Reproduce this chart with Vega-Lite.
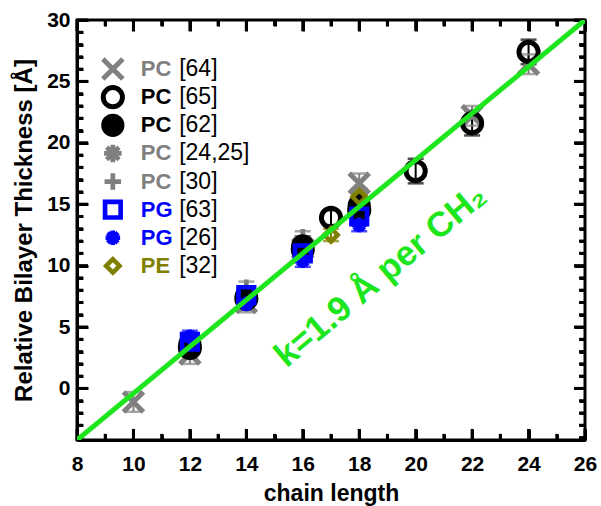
{
  "$schema": "https://vega.github.io/schema/vega-lite/v6.json",
  "width": 508,
  "height": 420,
  "autosize": {"type": "none"},
  "padding": {"left": 77, "top": 20, "right": 16, "bottom": 66},
  "config": {
    "view": {"stroke": "black", "strokeWidth": 3},
    "font": "Liberation Sans",
    "axis": {"tickColor": "#000000", "tickWidth": 3, "domainWidth": 3, "domainColor": "#000000", "grid": false, "labelOverlap": false, "labelFlush": false}
  },
  "datasets": {
    "pts": [
      {"s": "PC [64]", "n": 10, "t": -1.1, "lo": -1.9, "hi": -0.3},
      {"s": "PC [64]", "n": 12, "t": 2.8, "lo": 2.0, "hi": 3.6},
      {"s": "PC [64]", "n": 14, "t": 7.0, "lo": 6.2, "hi": 7.8},
      {"s": "PC [64]", "n": 16, "t": 11.4, "lo": 10.6, "hi": 12.2},
      {"s": "PC [64]", "n": 18, "t": 16.7, "lo": 15.9, "hi": 17.5},
      {"s": "PC [64]", "n": 22, "t": 22.2, "lo": 21.4, "hi": 23.0},
      {"s": "PC [64]", "n": 24, "t": 26.4, "lo": 25.6, "hi": 27.2},
      {"s": "PC [24,25]", "n": 12, "t": 3.0, "lo": 2.5, "hi": 3.5},
      {"s": "PC [24,25]", "n": 14, "t": 7.2, "lo": 6.7, "hi": 7.7},
      {"s": "PC [24,25]", "n": 16, "t": 11.0, "lo": 10.5, "hi": 11.5},
      {"s": "PC [24,25]", "n": 18, "t": 14.2, "lo": 13.7, "hi": 14.7},
      {"s": "PC [30]", "n": 12, "t": 3.5, "lo": 3.0, "hi": 4.0},
      {"s": "PC [30]", "n": 14, "t": 8.2, "lo": 7.7, "hi": 8.7},
      {"s": "PC [30]", "n": 16, "t": 12.3, "lo": 11.8, "hi": 12.8},
      {"s": "PC [30]", "n": 18, "t": 15.8, "lo": 15.3, "hi": 16.3},
      {"s": "PC [62]", "n": 12, "t": 3.6, "lo": 3.1, "hi": 4.1},
      {"s": "PC [62]", "n": 14, "t": 7.5, "lo": 7.0, "hi": 8.0},
      {"s": "PC [62]", "n": 16, "t": 11.6, "lo": 11.1, "hi": 12.1},
      {"s": "PC [62]", "n": 18, "t": 14.9, "lo": 14.4, "hi": 15.4},
      {"s": "PC [65]", "n": 12, "t": 3.3, "lo": 2.7, "hi": 3.9},
      {"s": "PC [65]", "n": 14, "t": 7.3, "lo": 6.7, "hi": 7.9},
      {"s": "PC [65]", "n": 16, "t": 11.3, "lo": 10.7, "hi": 11.9},
      {"s": "PC [65]", "n": 17, "t": 13.9, "lo": 13.3, "hi": 14.5},
      {"s": "PC [65]", "n": 18, "t": 14.5, "lo": 13.9, "hi": 15.1},
      {"s": "PC [65]", "n": 20, "t": 17.7, "lo": 16.7, "hi": 18.7},
      {"s": "PC [65]", "n": 22, "t": 21.6, "lo": 20.6, "hi": 22.6},
      {"s": "PC [65]", "n": 24, "t": 27.4, "lo": 26.4, "hi": 28.4},
      {"s": "PG [63]", "n": 12, "t": 3.8, "lo": 3.3, "hi": 4.3},
      {"s": "PG [63]", "n": 14, "t": 7.6, "lo": 7.1, "hi": 8.1},
      {"s": "PG [63]", "n": 16, "t": 11.0, "lo": 10.5, "hi": 11.5},
      {"s": "PG [63]", "n": 18, "t": 14.0, "lo": 13.5, "hi": 14.5},
      {"s": "PG [26]", "n": 12, "t": 4.2, "lo": 3.7, "hi": 4.7},
      {"s": "PG [26]", "n": 14, "t": 6.9, "lo": 6.4, "hi": 7.4},
      {"s": "PG [26]", "n": 16, "t": 10.4, "lo": 9.9, "hi": 10.9},
      {"s": "PG [26]", "n": 18, "t": 13.3, "lo": 12.8, "hi": 13.8},
      {"s": "PE [32]", "n": 17, "t": 12.5, "lo": 12.0, "hi": 13.0},
      {"s": "PE [32]", "n": 18, "t": 15.6, "lo": 15.1, "hi": 16.1}
    ],
    "leg": [
      {"s": "PC [64]", "abbr": "PC", "ref": "[64]"},
      {"s": "PC [65]", "abbr": "PC", "ref": "[65]"},
      {"s": "PC [62]", "abbr": "PC", "ref": "[62]"},
      {"s": "PC [24,25]", "abbr": "PC", "ref": "[24,25]"},
      {"s": "PC [30]", "abbr": "PC", "ref": "[30]"},
      {"s": "PG [63]", "abbr": "PG", "ref": "[63]"},
      {"s": "PG [26]", "abbr": "PG", "ref": "[26]"},
      {"s": "PE [32]", "abbr": "PE", "ref": "[32]"}
    ],
    "xmaj": [{"v": 8}, {"v": 10}, {"v": 12}, {"v": 14}, {"v": 16}, {"v": 18}, {"v": 20}, {"v": 22}, {"v": 24}, {"v": 26}],
    "xmin": [{"v": 9}, {"v": 11}, {"v": 13}, {"v": 15}, {"v": 17}, {"v": 19}, {"v": 21}, {"v": 23}, {"v": 25}],
    "ymaj": [{"v": 0}, {"v": 5}, {"v": 10}, {"v": 15}, {"v": 20}, {"v": 25}, {"v": 30}],
    "ymin": [{"v": -4}, {"v": -3}, {"v": -2}, {"v": -1}, {"v": 1}, {"v": 2}, {"v": 3}, {"v": 4}, {"v": 6}, {"v": 7}, {"v": 8}, {"v": 9}, {"v": 11}, {"v": 12}, {"v": 13}, {"v": 14}, {"v": 16}, {"v": 17}, {"v": 18}, {"v": 19}, {"v": 21}, {"v": 22}, {"v": 23}, {"v": 24}, {"v": 26}, {"v": 27}, {"v": 28}, {"v": 29}],
    "fit": [
      {"n": 8, "t": -4.2},
      {"n": 26, "t": 30}
    ],
    "note": [
      {"n": 18.75, "t": 9.2, "label": "k=1.9 Å per CH₂"}
    ]
  },
  "layer": [
    {
      "layer": [
        {
          "data": {"name": "pts"},
          "mark": {"type": "rule", "strokeWidth": 2},
          "encoding": {
            "x": {
              "field": "n", "type": "quantitative",
              "scale": {"domain": [8, 26], "nice": false, "zero": false},
              "axis": {
                "orient": "bottom",
                "values": [8,10,12,14,16,18,20,22,24,26],
                "ticks": false,
                "labelFont": "Liberation Sans", "labelFontWeight": "bold", "labelFontSize": 21, "labelColor": "black",
                "labelPadding": 13,
                "title": "chain length", "titleFont": "Liberation Sans", "titleFontWeight": "bold", "titleFontSize": 23, "titleColor": "black", "titlePadding": 8
              }
            },
            "y": {
              "field": "lo", "type": "quantitative",
              "scale": {"domain": [-4.2, 30], "nice": false, "zero": false},
              "axis": {
                "orient": "left",
                "values": [0,5,10,15,20,25,30],
                "ticks": false,
                "labelFont": "Liberation Sans", "labelFontWeight": "bold", "labelFontSize": 21, "labelColor": "black",
                "labelPadding": 7,
                "title": "Relative Bilayer Thickness  [Å]", "titleFont": "Liberation Sans", "titleFontWeight": "bold", "titleFontSize": 24, "titleColor": "black", "titlePadding": 10
              }
            },
            "y2": {"field": "hi"},
            "color": {
              "field": "s", "type": "nominal", "legend": null,
              "scale": {
                "domain": ["PC [64]", "PC [65]", "PC [62]", "PC [24,25]", "PC [30]", "PG [63]", "PG [26]", "PE [32]"],
                "range": ["#808080", "#000000", "#000000", "#808080", "#808080", "#0000ff", "#0000ff", "#808000"]
              }
            }
          }
        },
        {
          "data": {"name": "pts"},
          "mark": {"type": "tick", "orient": "horizontal", "size": 16, "thickness": 2.5},
          "encoding": {
            "x": {
              "field": "n", "type": "quantitative",
              "axis": {"orient": "bottom", "values": [8,10,12,14,16,18,20,22,24,26], "offset": -11, "tickSize": 11, "domain": false, "labels": false, "title": null}
            },
            "y": {
              "field": "lo", "type": "quantitative",
              "axis": {"orient": "left", "values": [0,5,10,15,20,25,30], "offset": -11, "tickSize": 11, "domain": false, "labels": false, "title": null}
            },
            "color": {"field": "s", "type": "nominal", "legend": null}
          }
        },
        {
          "data": {"name": "pts"},
          "mark": {"type": "tick", "orient": "horizontal", "size": 16, "thickness": 2.5},
          "encoding": {
            "x": {
              "field": "n", "type": "quantitative",
              "axis": {"orient": "bottom", "values": [9,11,13,15,17,19,21,23,25], "offset": -6, "tickSize": 6, "domain": false, "labels": false, "title": null}
            },
            "y": {
              "field": "hi", "type": "quantitative",
              "axis": {"orient": "left", "values": [-4,-3,-2,-1,1,2,3,4,6,7,8,9,11,12,13,14,16,17,18,19,21,22,23,24,26,27,28,29], "offset": -6, "tickSize": 6, "domain": false, "labels": false, "title": null}
            },
            "color": {"field": "s", "type": "nominal", "legend": null}
          }
        },
        {
          "data": {"name": "xmaj"},
          "mark": {"type": "rule", "color": "black", "strokeWidth": 3},
          "encoding": {
            "x": {
              "field": "v", "type": "quantitative",
              "axis": {"orient": "top", "values": [8,10,12,14,16,18,20,22,24,26], "offset": -11, "tickSize": 11, "domain": false, "labels": false, "title": null}
            },
            "y": {
              "datum": -4.2, "type": "quantitative",
              "axis": {"orient": "right", "values": [0,5,10,15,20,25,30], "offset": -11, "tickSize": 11, "domain": false, "labels": false, "title": null}
            },
            "y2": {"datum": -3.3}
          }
        },
        {
          "data": {"name": "xmaj"},
          "mark": {"type": "rule", "color": "black", "strokeWidth": 3},
          "encoding": {
            "x": {
              "field": "v", "type": "quantitative",
              "axis": {"orient": "top", "values": [9,11,13,15,17,19,21,23,25], "offset": -6, "tickSize": 6, "domain": false, "labels": false, "title": null}
            },
            "y": {
              "datum": 30, "type": "quantitative",
              "axis": {"orient": "right", "values": [-4,-3,-2,-1,1,2,3,4,6,7,8,9,11,12,13,14,16,17,18,19,21,22,23,24,26,27,28,29], "offset": -6, "tickSize": 6, "domain": false, "labels": false, "title": null}
            },
            "y2": {"datum": 29.1}
          }
        },
        {
          "data": {"name": "xmin"},
          "mark": {"type": "rule", "color": "black", "strokeWidth": 3},
          "encoding": {
            "x": {"field": "v", "type": "quantitative", "axis": null},
            "y": {"datum": -4.2, "type": "quantitative", "axis": null},
            "y2": {"datum": -3.7}
          }
        },
        {
          "data": {"name": "xmin"},
          "mark": {"type": "rule", "color": "black", "strokeWidth": 3},
          "encoding": {
            "x": {"field": "v", "type": "quantitative", "axis": null},
            "y": {"datum": 30, "type": "quantitative", "axis": null},
            "y2": {"datum": 29.5}
          }
        },
        {
          "data": {"name": "ymaj"},
          "mark": {"type": "rule", "color": "black", "strokeWidth": 3},
          "encoding": {
            "y": {"field": "v", "type": "quantitative", "axis": null},
            "x": {"datum": 8, "type": "quantitative", "axis": null},
            "x2": {"datum": 8.39}
          }
        },
        {
          "data": {"name": "ymaj"},
          "mark": {"type": "rule", "color": "black", "strokeWidth": 3},
          "encoding": {
            "y": {"field": "v", "type": "quantitative", "axis": null},
            "x": {"datum": 26, "type": "quantitative", "axis": null},
            "x2": {"datum": 25.61}
          }
        },
        {
          "data": {"name": "ymin"},
          "mark": {"type": "rule", "color": "black", "strokeWidth": 3},
          "encoding": {
            "y": {"field": "v", "type": "quantitative", "axis": null},
            "x": {"datum": 8, "type": "quantitative", "axis": null},
            "x2": {"datum": 8.21}
          }
        },
        {
          "data": {"name": "ymin"},
          "mark": {"type": "rule", "color": "black", "strokeWidth": 3},
          "encoding": {
            "y": {"field": "v", "type": "quantitative", "axis": null},
            "x": {"datum": 26, "type": "quantitative", "axis": null},
            "x2": {"datum": 25.79}
          }
        },
        {
          "data": {"name": "pts"},
          "mark": {"type": "point", "opacity": 1},
          "encoding": {
            "x": {"field": "n", "type": "quantitative", "axis": null},
            "y": {"field": "t", "type": "quantitative", "axis": null},
            "shape": {
              "field": "s", "type": "nominal", "legend": null,
              "scale": {
                "domain": ["PC [64]", "PC [65]", "PC [62]", "PC [24,25]", "PC [30]", "PG [63]", "PG [26]", "PE [32]"],
                "range": ["M-1,-1L1,1M-1,1L1,-1", "circle", "circle", "M0,-1L0,1M-1,0L1,0M-0.707,-0.707L0.707,0.707M-0.707,0.707L0.707,-0.707", "M-1,0L1,0M0,-1L0,1", "square", "M0,-1L0,1M-1,0L1,0M-0.707,-0.707L0.707,0.707M-0.707,0.707L0.707,-0.707", "diamond"]
              }
            },
            "stroke": {
              "field": "s", "type": "nominal", "legend": null,
              "scale": {
                "domain": ["PC [64]", "PC [65]", "PC [62]", "PC [24,25]", "PC [30]", "PG [63]", "PG [26]", "PE [32]"],
                "range": ["#808080", "#000000", "#000000", "#808080", "#808080", "#0000ff", "#0000ff", "#808000"]
              }
            },
            "fill": {
              "field": "s", "type": "nominal", "legend": null,
              "scale": {
                "domain": ["PC [64]", "PC [65]", "PC [62]", "PC [24,25]", "PC [30]", "PG [63]", "PG [26]", "PE [32]"],
                "range": ["transparent", "transparent", "#000000", "transparent", "transparent", "transparent", "transparent", "transparent"]
              }
            },
            "size": {
              "field": "s", "type": "nominal", "legend": null,
              "scale": {
                "domain": ["PC [64]", "PC [65]", "PC [62]", "PC [24,25]", "PC [30]", "PG [63]", "PG [26]", "PE [32]"],
                "range": [400, 180, 170, 440, 300, 100, 440, 300]
              }
            },
            "strokeWidth": {
              "field": "s", "type": "nominal", "legend": null,
              "scale": {
                "domain": ["PC [64]", "PC [65]", "PC [62]", "PC [24,25]", "PC [30]", "PG [63]", "PG [26]", "PE [32]"],
                "range": [5, 4.5, 1, 2.5, 3.5, 3.5, 2.5, 5]
              }
            }
          }
        },
        {
          "data": {"name": "fit"},
          "mark": {"type": "line", "color": "#1ee61e", "strokeWidth": 5, "clip": true},
          "encoding": {
            "x": {"field": "n", "type": "quantitative", "axis": null},
            "y": {"field": "t", "type": "quantitative", "axis": null}
          }
        },
        {
          "data": {"name": "note"},
          "mark": {"type": "text", "angle": 320, "align": "center", "baseline": "middle", "font": "Liberation Sans", "fontWeight": "bold", "fontSize": 35, "color": "#1ee61e"},
          "encoding": {
            "x": {"field": "n", "type": "quantitative", "axis": null},
            "y": {"field": "t", "type": "quantitative", "axis": null},
            "text": {"field": "label"}
          }
        }
      ],
      "resolve": {"axis": {"x": "independent", "y": "independent"}}
    },
    {
      "layer": [
        {
          "data": {"name": "leg"},
          "mark": {"type": "point", "opacity": 1},
          "encoding": {
            "x": {"datum": 9.27, "type": "quantitative", "axis": null},
            "y": {
              "field": "s", "type": "nominal", "axis": null,
              "scale": {"type": "point", "domain": ["PC [64]", "PC [65]", "PC [62]", "PC [24,25]", "PC [30]", "PG [63]", "PG [26]", "PE [32]"], "range": [35, 260]}
            },
            "shape": {"field": "s", "type": "nominal", "legend": null},
            "stroke": {"field": "s", "type": "nominal", "legend": null},
            "fill": {"field": "s", "type": "nominal", "legend": null},
            "size": {"field": "s", "type": "nominal", "legend": null},
            "strokeWidth": {"field": "s", "type": "nominal", "legend": null}
          }
        },
        {
          "data": {"name": "leg"},
          "mark": {"type": "text", "align": "left", "baseline": "middle", "font": "Liberation Sans", "fontWeight": "bold", "fontSize": 22},
          "encoding": {
            "x": {"datum": 10.26, "type": "quantitative", "axis": null},
            "y": {"field": "s", "type": "nominal", "axis": null},
            "text": {"field": "abbr"},
            "color": {"field": "s", "type": "nominal", "legend": null}
          }
        },
        {
          "data": {"name": "leg"},
          "mark": {"type": "text", "align": "left", "baseline": "middle", "font": "Liberation Sans", "fontSize": 23, "color": "black"},
          "encoding": {
            "x": {"datum": 11.62, "type": "quantitative", "axis": null},
            "y": {"field": "s", "type": "nominal", "axis": null},
            "text": {"field": "ref"}
          }
        }
      ]
    }
  ],
  "resolve": {"scale": {"y": "independent"}, "axis": {"x": "independent", "y": "independent"}}
}
